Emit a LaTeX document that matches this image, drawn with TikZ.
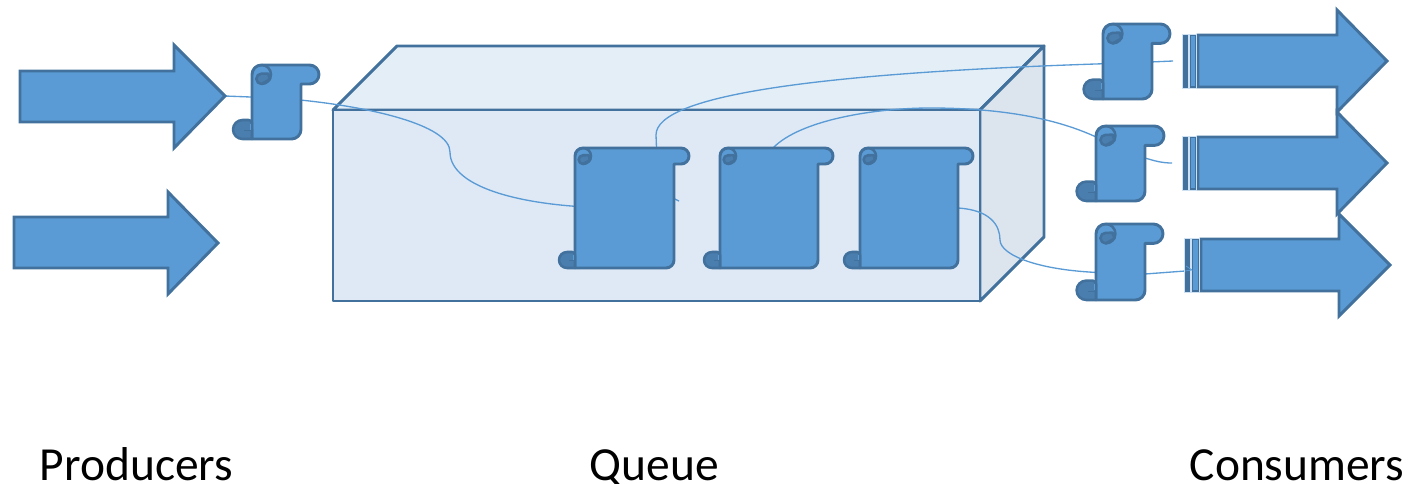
\documentclass[tikz,border=0pt]{standalone}
\usepackage{fontspec}
\setmainfont{Carlito}
\definecolor{fillblue}{HTML}{5B9BD5}
\definecolor{edgeblue}{HTML}{41719C}
\definecolor{darkblue}{HTML}{4A7EAF}
\definecolor{frontface}{HTML}{DEE9F5}
\definecolor{topface}{HTML}{E4EEF7}
\definecolor{sideface}{HTML}{DCE5EE}
\tikzset{
  boxedge/.style={draw=edgeblue,line width=2.2pt,line join=round},
  shape blue/.style={draw=edgeblue,fill=fillblue,line width=2.2pt,line join=miter},
  scrolledge/.style={draw=edgeblue,fill=fillblue,line width=2.2pt,line join=round},
  curldark/.style={draw=edgeblue,fill=darkblue,line width=1.9pt,line join=round},
  wire/.style={draw=fillblue,line width=1pt},
  label/.style={font=\fontsize{35.6}{40}\selectfont,text=black,anchor=base,inner sep=0pt},
}
% #1 left, #2 top, #3 body right, #4 bar right, #5 bottom, #6 radius
\newcommand{\scrollshape}[6]{%
  \begin{scope}[y=0.75pt]
  \path[scrolledge] (#1,-#2-#6) arc[start angle=180,end angle=90,radius=#6*0.75pt]
     -- (#4-#6,-#2) arc[start angle=90,end angle=-90,radius=#6*0.75pt]
     -- (#3,-#2-2*#6) -- (#3,-#5+#6) arc[start angle=0,end angle=-90,radius=#6*0.75pt]
     -- (#1,-#5) -- cycle;
  \path[curldark] (#1+#6,-#2-2*#6) arc[start angle=-90,end angle=-270,radius=#6*0.41pt]
     -- (#1+1.7*#6,-#2-0.9*#6) -- (#1+1.9*#6,-#2-1.5*#6) -- cycle;
  \path[draw=edgeblue,line width=1.9pt] (#1+#6,-#2) arc[start angle=90,end angle=-90,radius=#6*0.75pt];
  \path[curldark] (#1-#6,-#5) arc[start angle=-90,end angle=-270,radius=#6*0.75pt]
     -- (#1-0.35*#6,-#5+2*#6) arc[start angle=90,end angle=0,radius=#6*0.26pt]
     -- (#1,-#5) -- cycle;
  \path[draw=fillblue,line width=0.9pt] (#1-1.5,-#5+1.6*#6) -- (#1-1.5,-#5+#6);
  \path[draw=edgeblue,line width=0.9pt] (#1-1.5,-#5+0.9*#6) -- (#1-#6*0.8,-#5+0.9*#6);
  \end{scope}
}
% #1 left of bars, #2 left of shaft, #3 head x, #4 tip x, #5 mid y, #6 shaft half, #7 head half
\newcommand{\bararrow}[7]{%
  \path[shape blue] (#2,#5-#6) -- (#3,#5-#6) -- (#3,#5-#7) -- (#4,#5) -- (#3,#5+#7) -- (#3,#5+#6) -- (#2,#5+#6) -- cycle;
  \path[draw=white!70!fillblue,line width=0.6pt,fill=edgeblue] (#1,#5-#6-1) rectangle (#1+6,#5+#6+1);
  \path[draw=white!70!fillblue,line width=0.6pt,fill=edgeblue] (#1+7,#5-#6-1) rectangle (#2-1.5,#5+#6+1);
  \path[fill=fillblue] (#1+9,#5-#6+1) rectangle (#2-3.5,#5+#6-1);
}
\begin{document}
\begin{tikzpicture}[x=0.75pt,y=-0.75pt]
\useasboundingbox (0,0) rectangle (1409,483);
% box
\path[boxedge,fill=topface] (333,110) -- (397,46) -- (1044,46) -- (980,110) -- cycle;
\path[boxedge,fill=sideface] (980,110) -- (1044,46) -- (1044,237) -- (980,301) -- cycle;
\path[boxedge,fill=frontface] (333,110) rectangle (980,301);
% anchor points
\coordinate (ptip) at (225,96);
\coordinate (s0) at (276,98);
\coordinate (q1) at (622,208);
\coordinate (q2) at (769,208);
\coordinate (q3) at (909,208);
\coordinate (c1) at (1127,63);
\coordinate (c2) at (1120,150);
\coordinate (c3) at (1120,273);
\coordinate (e0) at (679,201);
\coordinate (e1) at (1173,61);
\coordinate (e2) at (1172,163);
\coordinate (e3) at (1185,271);
% connectors
\draw[wire] (ptip) -- (s0);
\draw[wire] (s0) -- (300,100) .. controls (370,107) and (450,125) .. (450,152) .. controls (450,188) and (525,208) .. (q1);
\draw[wire] (q1) .. controls (650,190) and (670,196) .. (e0);
\draw[wire] (q1) -- (657,160) -- (656,135) .. controls (656,95) and (820,72) .. (c1) -- (e1);
\draw[wire] (q2) -- (773,148) .. controls (800,120) and (875,108) .. (930,108) .. controls (1000,108) and (1070,118) .. (c2) -- (1145,158) .. controls (1155,161) and (1162,163) .. (e2);
\draw[wire] (q3) -- (958,208) .. controls (990,210) and (1000,225) .. (1000,240) .. controls (1000,255) and (1040,273) .. (c3) -- (1145,274) -- (e3);
% scrolls
\scrollshape{252}{65}{301}{319}{139}{9.5}
\scrollshape{575}{148}{674}{689}{268}{8}
\scrollshape{720}{148}{818}{833}{268}{8}
\scrollshape{860}{148}{958}{973}{268}{8}
\scrollshape{1103}{24}{1152}{1170}{99}{9.7}
\scrollshape{1096}{126}{1145}{1164}{201}{9.7}
\scrollshape{1096}{224}{1145}{1163}{300}{9.7}
% arrows
\path[shape blue] (20,71) -- (174,71) -- (174,45) -- (225,96) -- (174,148) -- (174,122) -- (20,122) -- cycle;
\path[shape blue] (14,217) -- (168,217) -- (168,192) -- (218,243) -- (168,294) -- (168,268) -- (14,268) -- cycle;
\bararrow{1182}{1198}{1337}{1387}{163}{26}{51}
\bararrow{1182}{1198}{1337}{1387}{61}{26}{51}
\bararrow{1184}{1201}{1339}{1390}{265}{26}{51}
\draw[wire,line width=0.6pt] (e3) -- (1192,270) -- (1186,266);
% labels
\node[label] (prod) at (136.5,480) {Producers};
\node[label] (queue) at (654.5,480) {Queue};
\node[label] (cons) at (1297,480) {Consumers};
\end{tikzpicture}
\end{document}
